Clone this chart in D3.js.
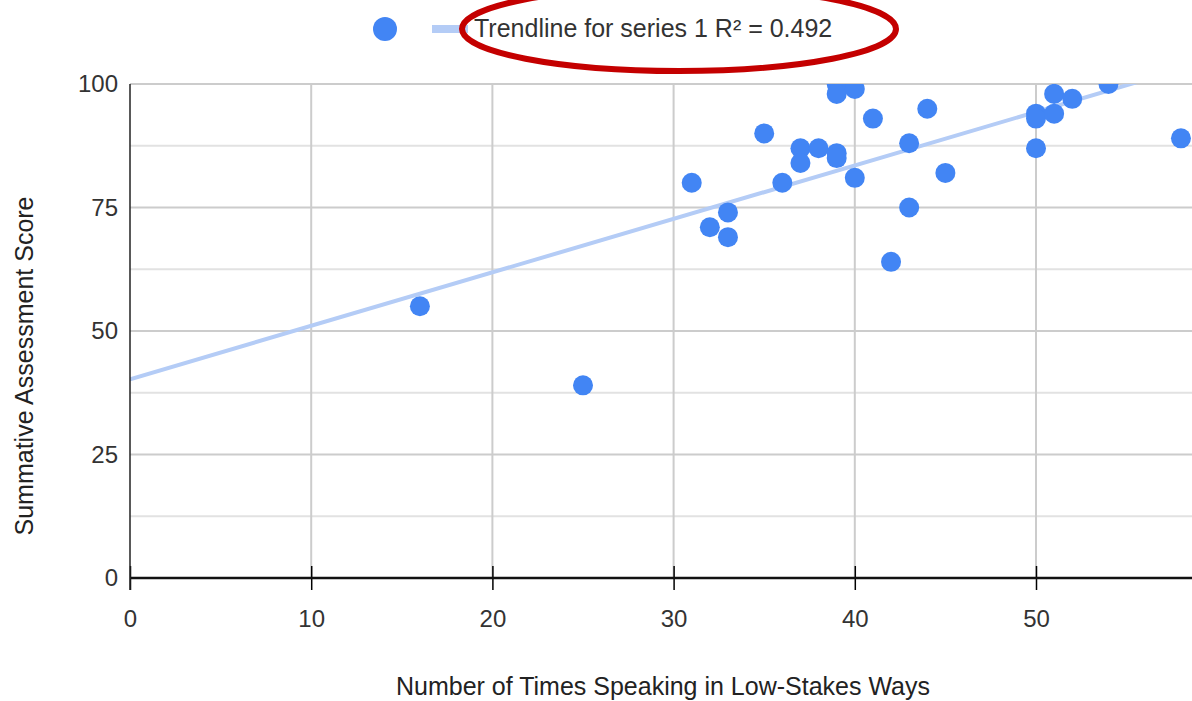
<!DOCTYPE html>
<html>
<head>
<meta charset="utf-8">
<script src="https://cdn.jsdelivr.net/npm/d3@7/dist/d3.min.js"></script>
<style>
  html, body { margin: 0; padding: 0; background: #fff; }
  svg { display: block; font-family: Arial, "Liberation Sans", sans-serif; }
</style>
</head>
<body>
<svg id="chart" width="1192" height="701"></svg>
<script>
// Times speaking in low-stakes ways vs. summative assessment score
const speakingCounts = [16, 25, 31, 32, 33, 33, 35, 36, 37, 37, 38, 39, 39, 39, 39, 40, 40, 41, 42, 43, 43, 44, 45, 50, 50, 50, 51, 51, 52, 54, 58];
const scores =         [55, 39, 80, 71, 74, 69, 90, 80, 87, 84, 87, 100, 98, 86, 85, 99, 81, 93, 64, 88, 75, 95, 82, 94, 93, 87, 98, 94, 97, 100, 89];

const xTicks = [0, 10, 20, 30, 40, 50];
const yTicks = [0, 25, 50, 75, 100];
const yMinorTicks = [12.5, 37.5, 62.5, 87.5];
const legendLabel = "Trendline for series 1 R\u00B2 = 0.492";
const xTitle = "Number of Times Speaking in Low-Stakes Ways";
const yTitle = "Summative Assessment Score";

const plot = { left: 130, top: 84, right: 1192, bottom: 578 };
const pxPerUnit = (1036 - 130) / 50;

const x = d3.scaleLinear()
  .domain([0, (plot.right - plot.left) / pxPerUnit])
  .range([plot.left, plot.right]);
const y = d3.scaleLinear().domain([0, 100]).range([plot.bottom, plot.top]);

const svg = d3.select("#chart");

svg.append("defs").append("clipPath").attr("id", "plotClip")
  .append("rect")
  .attr("x", plot.left).attr("y", plot.top)
  .attr("width", plot.right - plot.left).attr("height", plot.bottom - plot.top);

// gridlines
const grid = svg.append("g");
grid.selectAll("line.minor").data(yMinorTicks).join("line")
  .attr("x1", plot.left).attr("x2", plot.right)
  .attr("y1", d => y(d)).attr("y2", d => y(d))
  .attr("stroke", "#e2e2e2").attr("stroke-width", 2);
grid.selectAll("line.hmajor").data(yTicks.filter(d => d > 0)).join("line")
  .attr("x1", plot.left).attr("x2", plot.right)
  .attr("y1", d => y(d)).attr("y2", d => y(d))
  .attr("stroke", "#cccccc").attr("stroke-width", 2);
grid.selectAll("line.vmajor").data(xTicks.filter(d => d > 0)).join("line")
  .attr("x1", d => x(d)).attr("x2", d => x(d))
  .attr("y1", plot.top).attr("y2", plot.bottom)
  .attr("stroke", "#cccccc").attr("stroke-width", 2);

// least-squares trendline
const n = speakingCounts.length;
const mx = d3.mean(speakingCounts), my = d3.mean(scores);
let sxy = 0, sxx = 0;
for (let i = 0; i < n; i++) {
  sxy += (speakingCounts[i] - mx) * (scores[i] - my);
  sxx += (speakingCounts[i] - mx) ** 2;
}
const slope = sxy / sxx, intercept = my - slope * mx;
const [x0, x1] = x.domain();

const plotArea = svg.append("g").attr("clip-path", "url(#plotClip)");
plotArea.append("line")
  .attr("x1", x(x0)).attr("y1", y(intercept + slope * x0))
  .attr("x2", x(x1)).attr("y2", y(intercept + slope * x1))
  .attr("stroke", "#b4ccf6").attr("stroke-width", 4).attr("stroke-linecap", "round");

plotArea.selectAll("circle").data(speakingCounts.map((v, i) => [v, scores[i]])).join("circle")
  .attr("cx", d => x(d[0])).attr("cy", d => y(d[1]))
  .attr("r", 10).attr("fill", "#4285f4");

// axes
const xAxis = svg.append("g").attr("transform", `translate(0,${plot.bottom})`)
  .call(d3.axisBottom(x).tickValues(xTicks).tickSize(12).tickFormat(d3.format("d")));
xAxis.select(".domain").remove();
xAxis.selectAll(".tick line").attr("stroke", "#000").attr("stroke-width", 1.5).attr("y1", -12);
xAxis.selectAll(".tick text").attr("font-size", 24).attr("fill", "#333")
  .attr("font-family", "Arial, 'Liberation Sans', sans-serif")
  .attr("y", 49).attr("dy", 0);

svg.append("line")
  .attr("x1", plot.left).attr("x2", plot.right)
  .attr("y1", plot.bottom).attr("y2", plot.bottom)
  .attr("stroke", "#111").attr("stroke-width", 2.5);

const yAxis = svg.append("g").attr("transform", `translate(${plot.left},0)`)
  .call(d3.axisLeft(y).tickValues(yTicks).tickSize(0).tickPadding(12));
yAxis.select(".domain").remove();
yAxis.selectAll(".tick text").attr("font-size", 24).attr("fill", "#333")
  .attr("font-family", "Arial, 'Liberation Sans', sans-serif");

svg.append("line")
  .attr("x1", plot.left).attr("x2", plot.left)
  .attr("y1", plot.top).attr("y2", plot.bottom + 12)
  .attr("stroke", "#222").attr("stroke-width", 1.5);

// axis titles
svg.append("text")
  .attr("x", 663).attr("y", 695)
  .attr("text-anchor", "middle").attr("font-size", 25).attr("fill", "#222")
  .text(xTitle);
svg.append("text")
  .attr("transform", "translate(33,366) rotate(-90)")
  .attr("text-anchor", "middle").attr("font-size", 25).attr("fill", "#222")
  .text(yTitle);

// legend
const legend = svg.append("g");
legend.append("circle").attr("cx", 385).attr("cy", 29).attr("r", 12).attr("fill", "#4285f4");
legend.append("line").attr("x1", 432).attr("x2", 468).attr("y1", 29).attr("y2", 29)
  .attr("stroke", "#b4ccf6").attr("stroke-width", 8);
legend.append("text").attr("x", 474).attr("y", 37)
  .attr("font-size", 25).attr("fill", "#333").text(legendLabel);

// highlight ring around the trendline label
svg.append("ellipse")
  .attr("cx", 679).attr("cy", 29).attr("rx", 217).attr("ry", 42)
  .attr("fill", "none").attr("stroke", "#c40000").attr("stroke-width", 6);
</script>
</body>
</html>
